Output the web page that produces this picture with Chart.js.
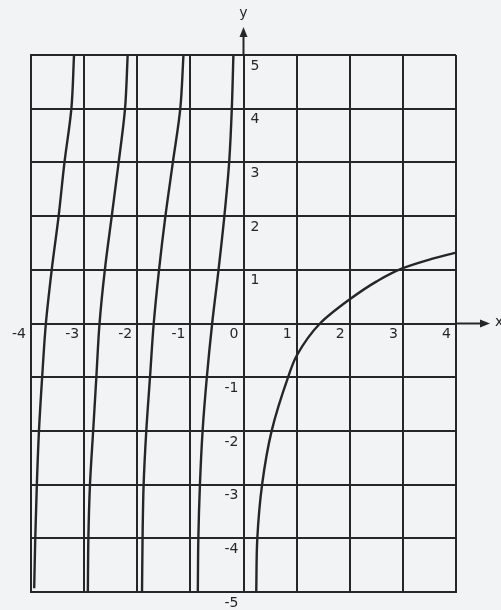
<!DOCTYPE html>
<html>
<head>
<meta charset="utf-8">
<script src="https://cdn.jsdelivr.net/npm/chart.js@4"></script>
<style>
  html, body { margin: 0; padding: 0; background: #f2f3f5; }
  #wrap { width: 501px; height: 610px; position: relative; }
</style>
</head>
<body>
<div id="wrap"><canvas id="graph"></canvas></div>
<script>
// values
const sharedY  = [-5, -4, -3, -2, -1, 0, 1, 2, 3, 4, 5];
const branch1Y = [-4.93, -4, -3, -2, -1, 0, 1, 2, 3, 4, 5];
const branch1X = [-3.94, -3.92, -3.89, -3.85, -3.79, -3.72, -3.61, -3.48, -3.37, -3.24, -3.19];
const branch2X = [-2.93, -2.92, -2.89, -2.83, -2.77, -2.71, -2.61, -2.48, -2.35, -2.23, -2.18];
const branch3X = [-1.91, -1.90, -1.88, -1.83, -1.76, -1.69, -1.59, -1.47, -1.33, -1.19, -1.13];
const branch4X = [-0.86, -0.85, -0.82, -0.77, -0.69, -0.59, -0.47, -0.36, -0.27, -0.22, -0.19];
const rightX   = [0.24, 0.26, 0.35, 0.53, 0.84, 1.0, 1.44, 2, 2.5, 3, 3.5, 4];
const rightY   = [-5, -4, -3, -2, -1, -0.6, 0, 0.45, 0.78, 1.03, 1.19, 1.32];

const xTickLabels = ['-4', '-3', '-2', '-1', '0', '1', '2', '3', '4'];
const yTickLabels = ['5', '4', '3', '2', '1', '-1', '-2', '-3', '-4', '-5'];

const ink = '#262626';

function pts(xs, ys) {
    return xs.map((x, i) => ({ x: x, y: ys[i] }));
}

// every branch rises steadily in y, so smooth along y (no wobble on the steep parts)
function curve(xs, ys) {
    return {
        data: pts(xs, ys),
        showLine: true,
        indexAxis: 'y',
        borderColor: ink,
        borderWidth: 2.4,
        pointRadius: 0,
        cubicInterpolationMode: 'monotone'
    };
}

// axis arrows + labels
const sketchLabels = {
    id: 'sketchLabels',
    afterDraw(chart) {
        const c = chart.ctx;
        const xs = chart.scales.x, ys = chart.scales.y;
        const ox = xs.getPixelForValue(0), oy = ys.getPixelForValue(0);
        const top = chart.chartArea.top, right = chart.chartArea.right;
        c.save();
        c.strokeStyle = ink;
        c.fillStyle = ink;
        c.lineWidth = 2;

        // y arrow
        c.beginPath(); c.moveTo(ox, top); c.lineTo(ox, top - 22); c.stroke();
        c.beginPath(); c.moveTo(ox, top - 28); c.lineTo(ox - 4, top - 18); c.lineTo(ox + 4, top - 18); c.closePath(); c.fill();
        // x arrow
        c.beginPath(); c.moveTo(right, oy); c.lineTo(right + 28, oy); c.stroke();
        c.beginPath(); c.moveTo(right + 34, oy); c.lineTo(right + 24, oy - 4); c.lineTo(right + 24, oy + 4); c.closePath(); c.fill();

        c.font = '14px "DejaVu Sans"';
        c.textBaseline = 'middle';
        c.textAlign = 'center';
        c.fillText('y', ox, top - 42);
        c.textAlign = 'left';
        c.fillText('x', right + 39, oy - 1);

        // x labels sit left of their grid line, just under the axis
        c.textAlign = 'right';
        xTickLabels.forEach(t => {
            c.fillText(t, xs.getPixelForValue(Number(t)) - 5, oy + 11);
        });
        // y labels: positive right of axis, negative left
        yTickLabels.forEach(t => {
            const v = Number(t);
            const py = ys.getPixelForValue(v) + 11;
            if (v > 0) { c.textAlign = 'left'; c.fillText(t, ox + 7, py); }
            else { c.textAlign = 'right'; c.fillText(t, ox - 5, py); }
        });
        c.restore();
    }
};

const ctx = document.getElementById('graph').getContext('2d');
new Chart(ctx, {
    type: 'scatter',
    data: {
        datasets: [
            curve(branch1X, branch1Y),
            curve(branch2X, sharedY),
            curve(branch3X, sharedY),
            curve(branch4X, sharedY),
            curve(rightX, rightY)
        ]
    },
    options: {
        responsive: true,
        maintainAspectRatio: false,
        animation: false,
        layout: { padding: { left: 31, right: 45, top: 55, bottom: 18 } },
        plugins: { legend: { display: false }, tooltip: { enabled: false } },
        scales: {
            x: {
                type: 'linear', min: -4, max: 4,
                ticks: { display: false, stepSize: 1 },
                grid: { color: ink, lineWidth: 2, drawTicks: false },
                border: { display: true, color: ink, width: 2 }
            },
            y: {
                type: 'linear', min: -5, max: 5,
                ticks: { display: false, stepSize: 1 },
                grid: { color: ink, lineWidth: 2, drawTicks: false },
                border: { display: true, color: ink, width: 2 }
            }
        }
    },
    plugins: [sketchLabels]
});
</script>
</body>
</html>
